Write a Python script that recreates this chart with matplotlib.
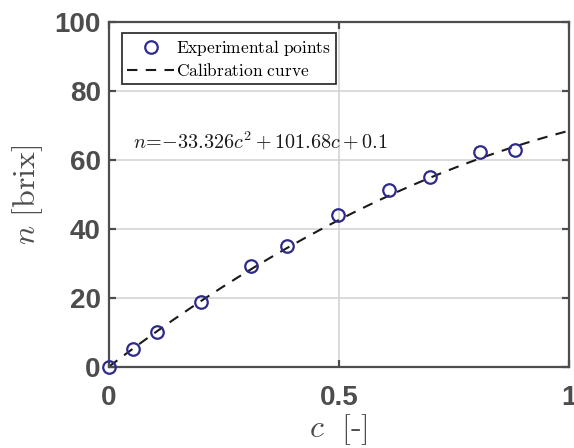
import numpy as np
import matplotlib.pyplot as plt

# measured points
conc = [0.0, 0.052, 0.104, 0.200, 0.309, 0.387, 0.498, 0.609, 0.698, 0.807, 0.883]
brix = [0.0, 5.2, 10.1, 18.8, 29.3, 35.1, 44.1, 51.3, 55.1, 62.3, 62.9]

# calibration polynomial n = a c^2 + b c + d
coeffs = [-33.326, 101.68, 0.1]
c_fit = np.linspace(0, 1, 200)
n_fit = np.polyval(coeffs, c_fit)

plt.rcParams['mathtext.fontset'] = 'cm'
plt.rcParams['font.family'] = 'Liberation Sans'

fig = plt.figure(figsize=(5.74, 4.48), dpi=100)
ax = fig.add_axes([0.19, 0.181, 0.801, 0.77])

ax.plot(conc, brix, 'o', mfc='none', mec='#2e2a8c', mew=1.6, ms=9,
        label='Experimental points', zorder=3, clip_on=False)
ax.plot(c_fit, n_fit, '--', color='#1a1a1a', lw=1.5, dashes=(5, 4),
        label='Calibration curve', zorder=2)

ax.set_xlim(0, 1)
ax.set_ylim(0, 100)
ax.set_xticks([0, 0.5, 1])
ax.set_xticklabels(['0', '0.5', '1'])
ax.set_yticks([0, 20, 40, 60, 80, 100])

ax.grid(True, color='#d4d4d4', lw=1.2)
ax.set_axisbelow(True)

for s in ax.spines.values():
    s.set_color('#4d4d4d')
    s.set_linewidth(1.6)
ax.tick_params(direction='in', length=5, width=1.6, color='#4d4d4d',
               labelsize=20, labelcolor='#4d4d4d', top=True, right=True)
ax.tick_params(axis='x', pad=13)
ax.tick_params(axis='y', pad=6)
for lab in ax.get_xticklabels() + ax.get_yticklabels():
    lab.set_fontweight('bold')

ax.set_xlabel(r'$c\ \ [\mathbf{\text{-}}]$', fontsize=23, color='#4d4d4d', labelpad=1)
ax.set_ylabel(r'$n\ \mathrm{[brix]}$', fontsize=23, color='#4d4d4d', labelpad=7)

ax.text(0.052, 65.5, r'$n\!=\!{-}33.326c^2+101.68c+0.1$', fontsize=14.5,
        va='center', ha='left', color='#1a1a1a')

leg = ax.legend(loc='upper left', bbox_to_anchor=(0.028, 0.968), fancybox=False,
                edgecolor='#333333', framealpha=1, borderpad=0.3, handlelength=2.7,
                handletextpad=0.1, labelspacing=0.2, borderaxespad=0,
                prop={'size': 12.5})
leg.get_frame().set_linewidth(1.3)
for t in leg.get_texts():
    t.set_text(r'$\mathrm{' + t.get_text().replace(' ', r'\ ') + '}$')

plt.savefig('out.png', dpi=100)
